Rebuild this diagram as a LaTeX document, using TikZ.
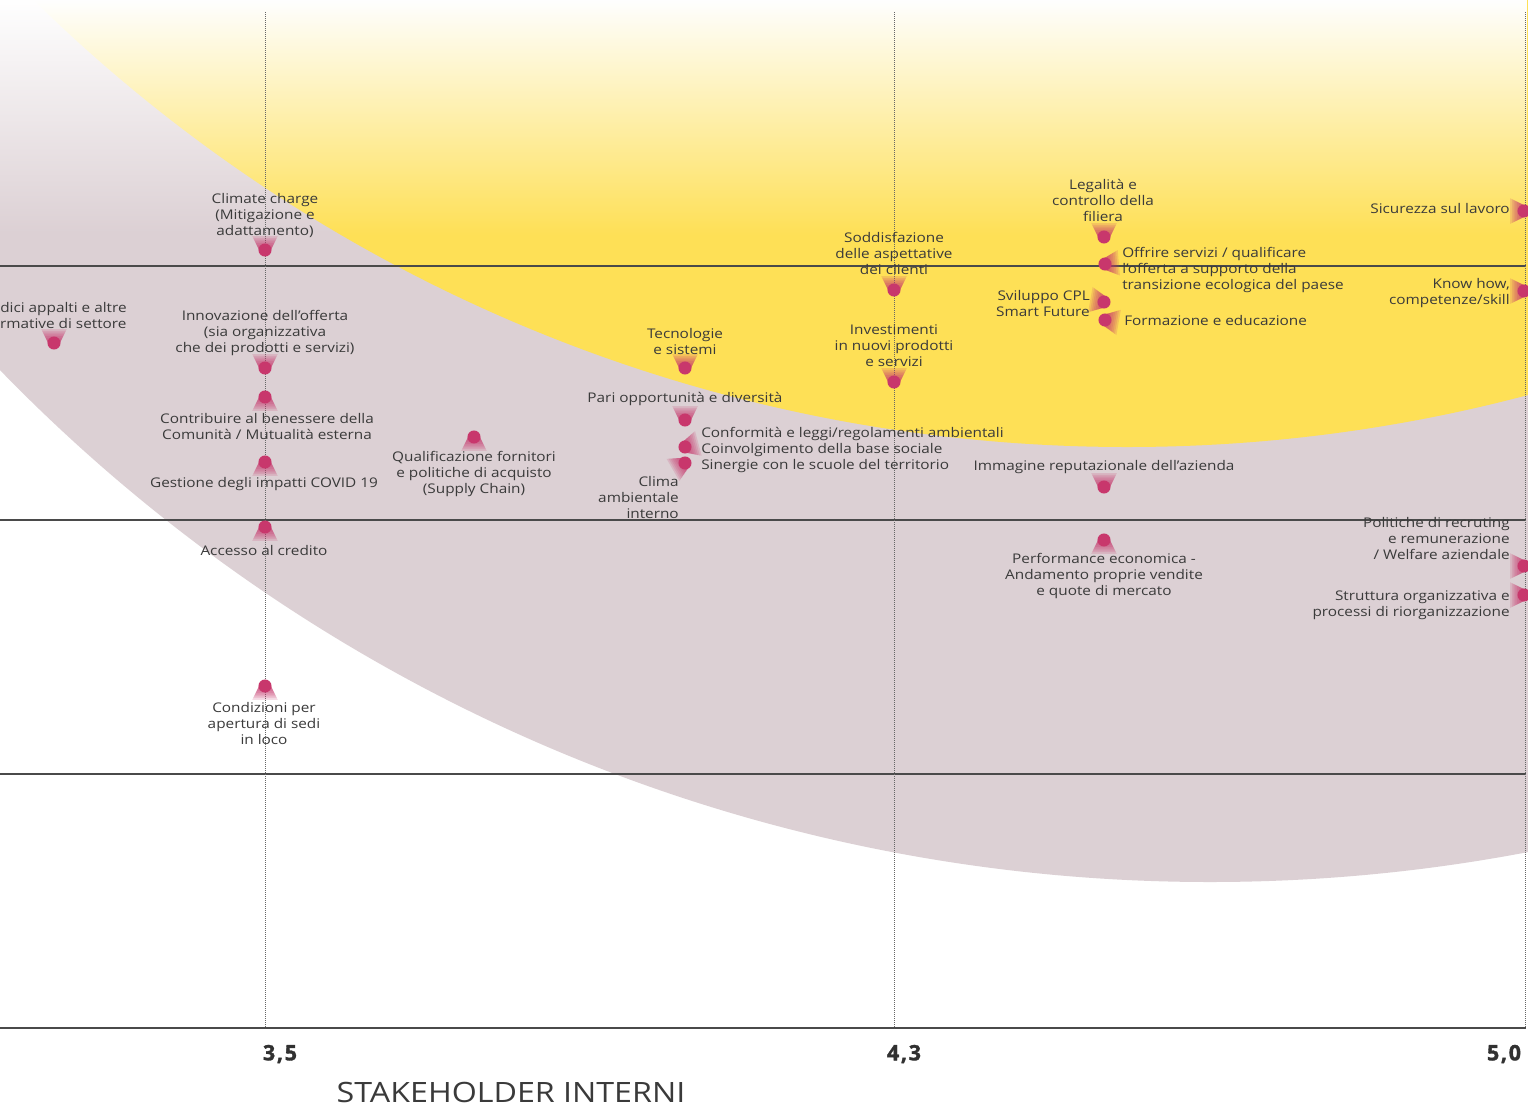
\documentclass[tikz,border=0pt]{standalone}
\usepackage{fontspec}
\setmainfont{Open Sans}[FakeStretch=1.15]
\newfontfamily\tickfont{Open Sans}[LetterSpace=8, FakeBold=1.6]
\usetikzlibrary{fadings}
\definecolor{ylw}{HTML}{FEE056}
\definecolor{lil}{HTML}{DCD0D4}
\definecolor{dotc}{HTML}{C8376C}
\definecolor{txt}{HTML}{3A3A3A}
\definecolor{rulec}{HTML}{4A4A4A}
\tikzfading[name=topfade, top color=transparent!0, bottom color=transparent!100]
% marker: name, position, direction of the cone (degrees, ccw from east)
\newcommand\mk[3]{%
  \coordinate (#1) at (#2);
  \begin{scope}[shift={(#1)}, rotate=#3]
    \foreach \k in {1,...,8}{%
      \pgfmathsetmacro\dd{1.3*\k}%
      \pgfmathsetmacro\hh{4.4+0.5*\dd}%
      \fill[dotc, fill opacity=0.17] (0pt,-4.4pt) -- (0pt,4.4pt) -- (\dd pt,\hh pt) -- (\dd pt,-\hh pt) -- cycle;
    }
  \end{scope}
  \fill[dotc] (#1) circle[radius=4.9pt];
}
\begin{document}
\begin{tikzpicture}[x=0.75pt, y=-0.75pt,
  lbl/.style={font=\fontsize{10}{12}\selectfont, text=txt, inner sep=0pt, align=center},
  lbll/.style={lbl, align=left, anchor=west},
  lblr/.style={lbl, align=right, anchor=east},
  hrule/.style={draw=rulec, line width=0.8pt},
  vrule/.style={draw=gray!80!black, line width=0.75pt, dash pattern=on 0.75pt off 0.75pt},
  tick/.style={font=\tickfont\fontsize{16}{18}\selectfont\bfseries, text=txt!85!black, inner sep=0pt},
  ttl/.style={font=\fontsize{21}{24}\selectfont, text=txt, inner sep=0pt}]
\useasboundingbox (0,0) rectangle (1528,1104);
\clip (0,0) rectangle (1528,1104);
\fill[white] (0,0) rectangle (1528,1104);
% regions
\fill[lil] (1210,-804) circle[radius=1264.5pt];
\fill[ylw] (1127,-1114) circle[radius=1170.75pt];
\fill[white, path fading=topfade] (0,0) rectangle (1528,235);
% grid
\foreach \yy in {266,520,774,1028} \draw[hrule] (0,\yy) -- (1526,\yy);
\foreach \xx in {265,894,1525} \draw[vrule] (\xx,12) -- (\xx,1028);
% markers
\mk{m1}{265,250}{90}
\mk{m2}{265,368}{90}
\mk{m3}{265,397}{270}
\mk{m4}{265,462}{270}
\mk{m5}{265,527}{270}
\mk{m6}{265,686}{270}
\mk{m7}{54,343}{90}
\mk{m8}{474,437}{270}
\mk{m9}{685,368}{90}
\mk{m10}{685,420}{90}
\mk{m11}{685,447}{15}
\mk{m12}{685,463}{210}
\mk{m13}{894,290}{90}
\mk{m14}{894,382}{90}
\mk{m15}{1104,237}{90}
\mk{m16}{1105,264}{5}
\mk{m17}{1104,302}{170}
\mk{m18}{1105,320}{350}
\mk{m19}{1104,487}{90}
\mk{m20}{1104,540}{270}
\mk{m21}{1524,211}{180}
\mk{m22}{1524,291}{180}
\mk{m23}{1524,566}{180}
\mk{m24}{1524,595}{180}
% labels
\node[lbl] (l1) at (265,215) {Climate charge\\(Mitigazione e\\adattamento)};
\node[lbl] (l2) at (265,333) {Innovazione dell’offerta\\(sia organizzativa\\che dei prodotti e servizi)};
\node[lbl] (l3) at (267,426) {Contribuire al benessere della\\Comunità / Mutualità esterna};
\node[lbl] (l4) at (264,484) {Gestione degli impatti COVID 19};
\node[lbl] (l5) at (264,550) {Accesso al credito};
\node[lbl] (l6) at (264,723) {Condizioni per\\apertura di sedi\\in loco};
\node[lbl] (l7) at (54,315) {Codici appalti e altre\\normative di settore};
\node[lbl] (l8) at (474,474) {Qualificazione fornitori\\e politiche di acquisto\\(Supply Chain)};
\node[lbl] (l9) at (685,341) {Tecnologie\\e sistemi};
\node[lbl] (l10) at (685,399) {Pari opportunità e diversità};
\node[lbll] (l11) at (701,450) {Conformità e leggi/regolamenti ambientali\\Coinvolgimento della base sociale\\Sinergie con le scuole del territorio};
\node[lblr] (l12) at (679,497) {Clima\\ambientale\\interno};
\node[lbl] (l13) at (894,253) {Soddisfazione\\delle aspettative\\dei clienti};
\node[lbl] (l14) at (894,346) {Investimenti\\in nuovi prodotti\\e servizi};
\node[lbl] (l15) at (1103,200) {Legalità e\\controllo della\\filiera};
\node[lbll] (l16) at (1122,270) {Offrire servizi / qualificare\\l’offerta a supporto della\\transizione ecologica del paese};
\node[lblr] (l17) at (1090,303) {Sviluppo CPL\\Smart Future};
\node[lbll] (l18) at (1124,320) {Formazione e educazione};
\node[lbl] (l19) at (1104,467) {Immagine reputazionale dell’azienda};
\node[lbl] (l20) at (1104,576) {Performance economica -\\Andamento proprie vendite\\e quote di mercato};
\node[lblr] (l21) at (1510,208) {Sicurezza sul lavoro};
\node[lblr] (l22) at (1510,293) {Know how,\\competenze/skill};
\node[lblr] (l23) at (1510,538) {Politiche di recruting\\e remunerazione\\/ Welfare aziendale};
\node[lblr] (l24) at (1510,605) {Struttura organizzativa e\\processi di riorganizzazione};
% axis
\node[tick] (t1) at (280,1054) {3,5};
\node[tick] (t2) at (904,1054) {4,3};
\node[tick] (t3) at (1504,1054) {5,0};
\node[ttl] (title) at (511,1092) {STAKEHOLDER INTERNI};
\end{tikzpicture}
\end{document}
